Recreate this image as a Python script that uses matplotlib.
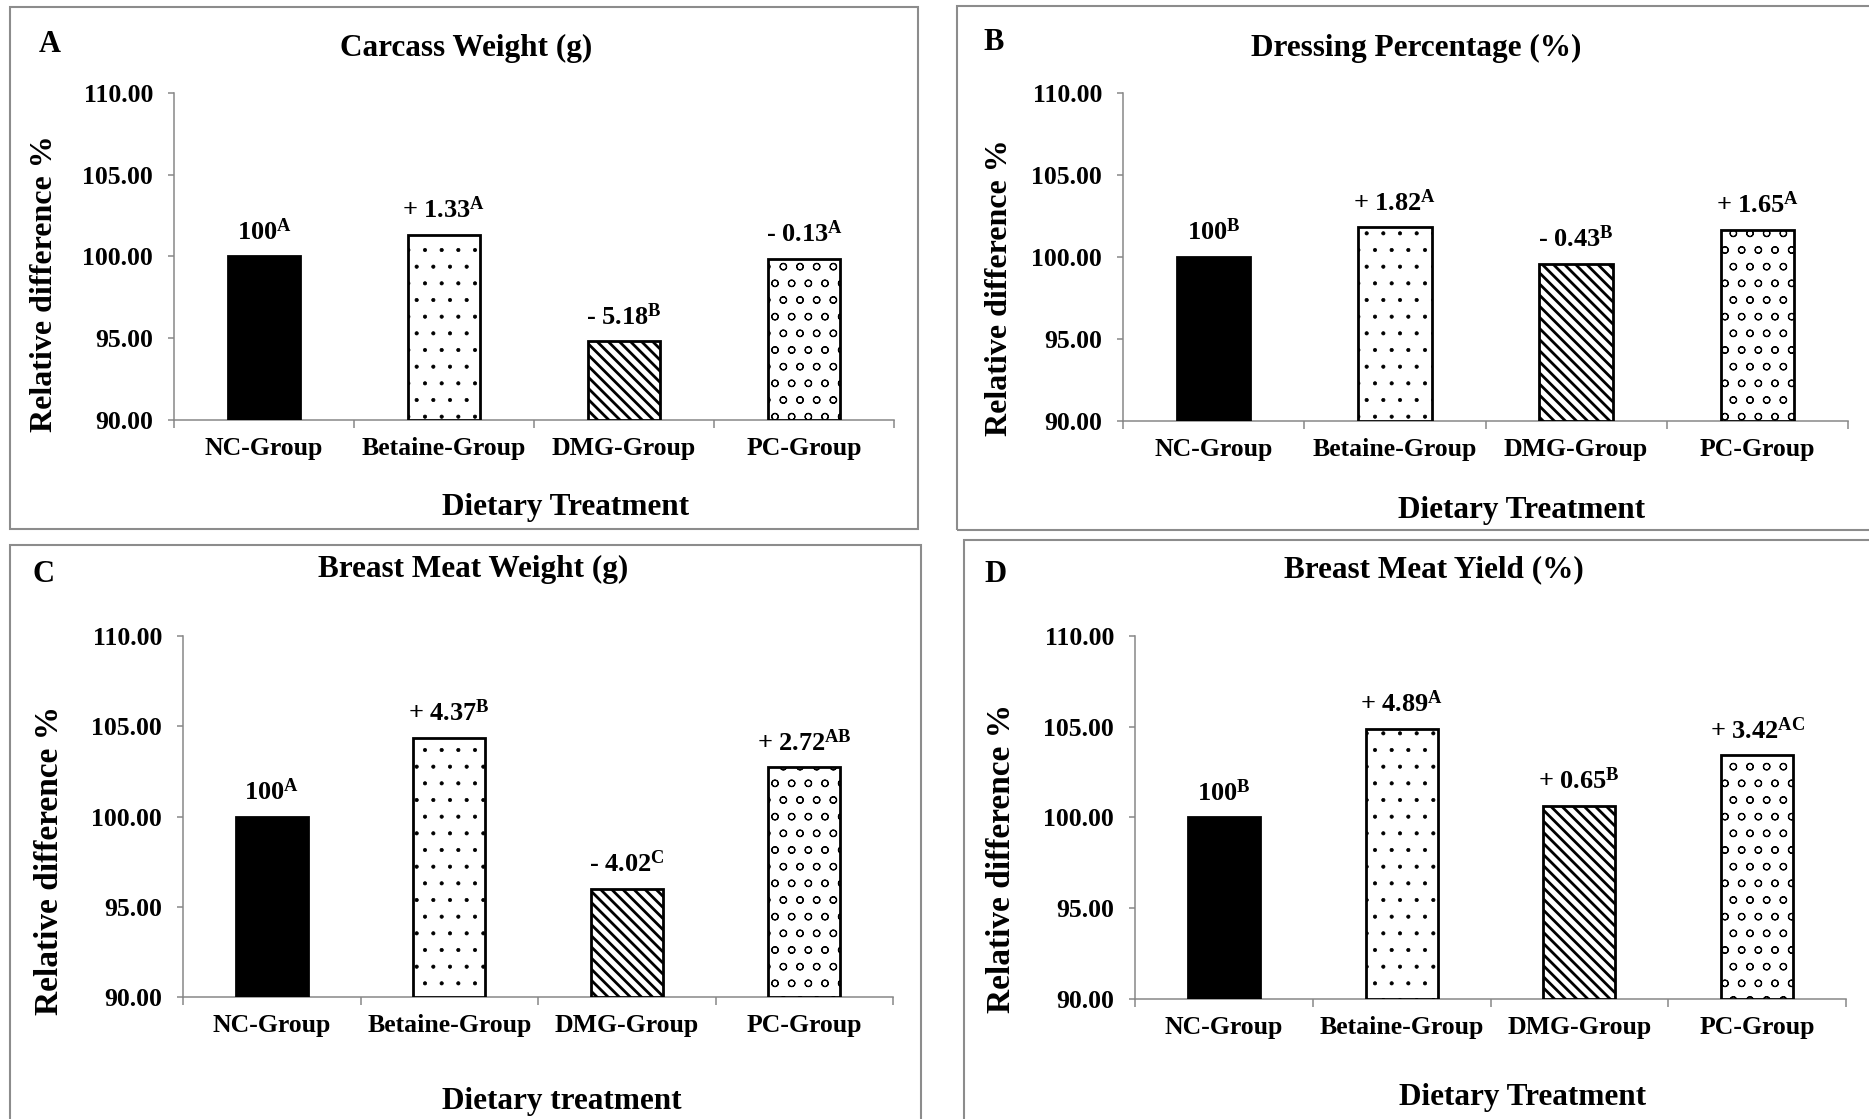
import matplotlib
matplotlib.use('Agg')
import matplotlib.pyplot as plt
from matplotlib.patches import Rectangle

plt.rcParams['font.family'] = ['Liberation Serif', 'DejaVu Serif']
plt.rcParams['font.weight'] = 'bold'
plt.rcParams['mathtext.fontset'] = 'custom'
plt.rcParams['mathtext.rm'] = 'Liberation Serif:bold'
plt.rcParams['mathtext.bf'] = 'Liberation Serif:bold'
plt.rcParams['mathtext.it'] = 'Liberation Serif:bold:italic'
plt.rcParams['hatch.linewidth'] = 1.0

# ---------------- data ----------------
categories = ['NC-Group', 'Betaine-Group', 'DMG-Group', 'PC-Group']
panel_letters = ['A', 'B', 'C', 'D']
titles = ['Carcass Weight (g)', 'Dressing Percentage (%)',
          'Breast Meat Weight (g)', 'Breast Meat Yield (%)']
xlabels = ['Dietary Treatment', 'Dietary Treatment',
           'Dietary treatment', 'Dietary Treatment']
ylabel = 'Relative difference %'

carcass_weight = [100.00, 101.33, 94.82, 99.87]
dressing_pct = [100.00, 101.82, 99.57, 101.65]
breast_weight = [100.00, 104.37, 95.98, 102.72]
breast_yield = [100.00, 104.89, 100.65, 103.42]

carcass_letters = ['A', 'A', 'B', 'A']
dressing_letters = ['B', 'A', 'B', 'A']
breast_weight_letters = ['A', 'B', 'C', 'AB']
breast_yield_letters = ['B', 'A', 'B', 'AC']

yticks = [90, 95, 100, 105, 110]

series = [carcass_weight, dressing_pct, breast_weight, breast_yield]
letters = [carcass_letters, dressing_letters, breast_weight_letters, breast_yield_letters]

# ---------------- layout (pixels in a 1869x1119 canvas) ----------------
W, H = 1869, 1119
fig = plt.figure(figsize=(W / 100, H / 100), dpi=100)
fig.patch.set_facecolor('white')

def fx(x):
    return x / W

def fy(y):
    return 1 - y / H

axes_px = [(174, 894, 93, 420), (1123, 1848, 93, 421),
           (183, 893, 636, 997), (1135, 1846, 636, 999)]
frames_px = [(10, 7, 918, 529), (957, 6, 1880, 530),
             (10, 545, 921, 1130), (964, 540, 1880, 1130)]
title_px = [(466, 48), (1416, 48), (473, 569), (1434, 570)]
letter_px = [(39, 45), (983, 43), (32, 575), (984, 575)]
xlabel_px = [(566, 508), (1522, 510), (562, 1102), (1523, 1098)]
ylabel_px = [(44, 284), (999, 288), (50, 860), (1001, 858)]
ylabel_size = [23, 23, 24, 24]

spine_col = '#878787'
frame_col = '#8c8c8c'

styles = [dict(facecolor='black', hatch=None),
          dict(facecolor='white', hatch='.'),
          dict(facecolor='white', hatch='\\\\\\'),
          dict(facecolor='white', hatch='o')]
hatch_lw = [1.0, 0.5, 2.0, 0.8]

for k in range(4):
    l, t, r, b = frames_px[k]
    fig.patches.append(Rectangle((fx(l), fy(b)), fx(r - l), (b - t) / H,
                                 transform=fig.transFigure, fill=False,
                                 edgecolor=frame_col, linewidth=1.5))
    al, ar, at, ab = axes_px[k]
    ax = fig.add_axes([fx(al), fy(ab), fx(ar - al), (ab - at) / H])
    ax.set_ylim(90, 110)
    ax.set_xlim(-0.5, 3.5)
    vals = series[k]
    for i, v in enumerate(vals):
        st = styles[i]
        with plt.rc_context({'hatch.linewidth': hatch_lw[i]}):
            bars = ax.bar(i, v - 90, bottom=90, width=0.405,
                          facecolor=st['facecolor'], edgecolor='black',
                          linewidth=2.0, hatch=st['hatch'], zorder=3)
        for p in bars:
            if hasattr(p, 'set_hatch_linewidth'):
                p.set_hatch_linewidth(hatch_lw[i])
        d = v - 100
        if i == 0:
            main = '100'
        else:
            main = ('+ ' if d > 0 else '- ') + f'{abs(d):.2f}'
        txt = main + r'$^{\mathbf{' + letters[k][i] + '}}$'
        ax.annotate(txt, (i, v), xytext=(0, 12), textcoords='offset points',
                    ha='center', va='baseline', fontsize=19, fontweight='bold')

    for s in ['top', 'right']:
        ax.spines[s].set_visible(False)
    for s in ['left', 'bottom']:
        ax.spines[s].set_color(spine_col)
        ax.spines[s].set_linewidth(1.1)
    ax.set_yticks(yticks)
    ax.set_yticklabels([f'{y:.2f}' for y in yticks], fontsize=18.5, fontweight='bold')
    ax.tick_params(axis='y', direction='out', length=4.5, width=1.1,
                   color=spine_col, pad=10.5)
    ax.set_xticks([-0.5, 0.5, 1.5, 2.5, 3.5])
    ax.set_xticklabels([])
    ax.tick_params(axis='x', which='major', direction='out', length=6,
                   width=1.1, color=spine_col)
    ax.set_xticks(range(len(categories)), minor=True)
    ax.set_xticklabels(categories, minor=True, fontsize=18.5, fontweight='bold')
    ax.tick_params(axis='x', which='minor', length=0, pad=12)

    x, y = title_px[k]
    fig.text(fx(x), fy(y), titles[k], ha='center', va='center',
             fontsize=22.5, fontweight='bold')
    x, y = letter_px[k]
    fig.text(fx(x), fy(y), panel_letters[k], ha='left', va='center',
             fontsize=22, fontweight='bold')
    x, y = xlabel_px[k]
    fig.text(fx(x), fy(y), xlabels[k], ha='center', va='center',
             fontsize=22.5, fontweight='bold')
    x, y = ylabel_px[k]
    fig.text(fx(x), fy(y), ylabel, ha='center', va='center', rotation=90,
             fontsize=ylabel_size[k], fontweight='bold')

fig.savefig('out.png', dpi=100, facecolor='white')
